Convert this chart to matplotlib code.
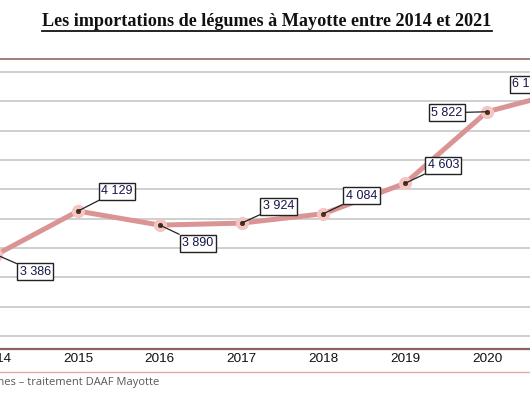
import matplotlib
matplotlib.use("Agg")
import matplotlib.pyplot as plt
from matplotlib.lines import Line2D

years = [2014, 2015, 2016, 2017, 2018, 2019, 2020, 2021]
values = [3386, 4129, 3890, 3924, 4084, 4603, 5822, 6190]
grid_values = [2000, 2500, 3000, 3500, 4000, 4500, 5000, 5500, 6000, 6500]
title = "Les importations de légumes à Mayotte entre 2014 et 2021"
source = "Source : Douanes – traitement DAAF Mayotte"
# label offsets in pixels (dx, dy up)
label_offsets = [(39, -17), (39, 20), (38, -18), (37, 17), (38, 18), (38, 18), (-40, -1), (-41, 6)]

def fmt(v):
    return f"{v:,}".replace(",", " ")

fig = plt.figure(figsize=(5.3, 3.96), dpi=100)
W, H = 530, 396
ax_top_px, ax_bot_px = 59, 349
ax = fig.add_axes([0, (H - ax_bot_px) / H, 1, (ax_bot_px - ax_top_px) / H])

px_per_year = 81.8
x0_px = -3.8
ax.set_xlim(2014 - x0_px / px_per_year, 2014 + (W - x0_px) / px_per_year)
px_per_unit = 29.33 / 500
ax.set_ylim(6500 - (ax_bot_px - 72) / px_per_unit, 6500 + (72 - ax_top_px) / px_per_unit)

for g in grid_values:
    ax.axhline(g, color="#cbcbcb", lw=1.3, zorder=1)

ax.plot(years, values, color="#db9494", lw=3.6, solid_capstyle="round", zorder=2, clip_on=True)
ax.plot(years, values, ls="none", marker="o", ms=9.5, mfc="#f7c4c4", mec="none", zorder=3)
ax.plot(years, values, ls="none", marker="o", ms=3.2, mfc="#4f3a17", mec="#2b2010", mew=0.4, zorder=4)

for x, v, (dx, dy) in zip(years, values, label_offsets):
    ax.annotate(fmt(v), xy=(x, v), xytext=(dx, dy), textcoords="offset pixels",
                ha="center", va="center", fontsize=9, family="Liberation Sans", color="#14144a",
                bbox=dict(boxstyle="square,pad=0.2", fc="white", ec="#222222", lw=1.0),
                arrowprops=dict(arrowstyle="-", color="#222222", lw=0.9, shrinkA=0, shrinkB=0),
                zorder=5, annotation_clip=False)

ax.set_xticks([])
ax.set_yticks([])
for s in ["left", "right"]:
    ax.spines[s].set_visible(False)
ax.spines["top"].set_color("#a27c7c")
ax.spines["top"].set_linewidth(1.4)
ax.spines["bottom"].set_color("#8e6060")
ax.spines["bottom"].set_linewidth(1.6)

for y in years:
    ax.annotate(str(y), xy=(y, 0), xycoords=("data", "axes fraction"), xytext=(0, -10),
                textcoords="offset pixels", ha="center", va="center", fontsize=9.7,
                family="Liberation Sans", color="#111111", annotation_clip=False)

fig.add_artist(Line2D([0, 1], [(H - 372) / H] * 2, color="#eaa5a5", lw=1.0))

t = fig.text(267 / W, (H - 22) / H, title, ha="center", va="center", fontsize=13.1,
             family="Liberation Serif", fontweight="bold", color="#111111")
fig.canvas.draw()
bb = t.get_window_extent()
uy = (H - 31) / H
fig.add_artist(Line2D([bb.x0 / W, bb.x1 / W], [uy, uy], color="#111111", lw=1.3))

fig.text(159 / W, (H - 383) / H, source, ha="right", va="center", fontsize=8.0,
         family="Open Sans", color="#595959")

fig.savefig("out.png", dpi=100)
